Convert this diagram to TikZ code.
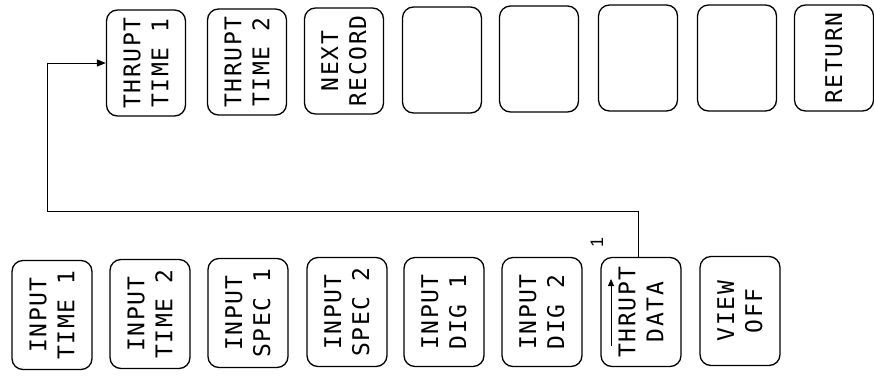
\documentclass[tikz,border=0pt]{standalone}
\usepackage{fontspec}
\setmonofont{DejaVu Sans Mono}
\usetikzlibrary{arrows.meta}
\newfontfamily\keyfont[LetterSpace=7]{DejaVu Sans Mono}
\newfontfamily\markfont{Liberation Sans}
\tikzset{
  keybox/.style={draw, line width=1.3pt, rounded corners=11pt, rotate=90,
    inner sep=0pt, align=center,
    font=\keyfont\fontsize{23}{28}\selectfont},
  bot/.style={keybox, minimum width=109pt, minimum height=80pt},
  top/.style={keybox, minimum width=106pt, minimum height=79pt},
  link/.style={line width=1pt, -{Triangle[length=9pt,width=7pt]}},
}
\begin{document}
\begin{tikzpicture}[x=1pt,y=-1pt]
\useasboundingbox (0,0) rectangle (874,381);
% top row
\node[top] (t1) at (146,63) {THRUPT\\TIME 1};
\node[top] (t2) at (247,62) {THRUPT\\TIME 2};
\node[top] (t3) at (344,61) {NEXT\\RECORD};
\node[top] (t4) at (442,60) {};
\node[top] (t5) at (539,59) {};
\node[top] (t6) at (638,58) {};
\node[top] (t7) at (737,58) {};
\node[top] (t8) at (834,58) {RETURN};
% bottom row
\node[bot] (b1) at (52,315) {INPUT\\TIME 1};
\node[bot] (b2) at (150,314) {INPUT\\TIME 2};
\node[bot] (b3) at (248,313) {INPUT\\SPEC 1};
\node[bot] (b4) at (347,312) {INPUT\\SPEC 2};
\node[bot] (b5) at (444,312) {INPUT\\DIG 1};
\node[bot] (b6) at (542,312) {INPUT\\DIG 2};
\node[bot] (b7) at (641,312) {THRUPT\\DATA};
\node[bot] (b8) at (740,311) {VIEW\\OFF};
% connector (nodes are rotated: east = top edge, north = left edge)
\coordinate (c1) at (47,211);
\draw[link] ([xshift=-3pt]b7.east) |- (c1) |- (t1.north);
% small arrow inside THRUPT DATA
\coordinate (ua) at (611,346);
\coordinate (ub) at (611,279);
\draw[line width=1pt, -{Triangle[length=7pt,width=6pt]}] (ua) -- (ub);
% small mark
\node[rotate=90, font=\markfont\fontsize{18}{18}\selectfont, inner sep=0pt] (m1) at (597,242) {1};
\end{tikzpicture}
\end{document}
